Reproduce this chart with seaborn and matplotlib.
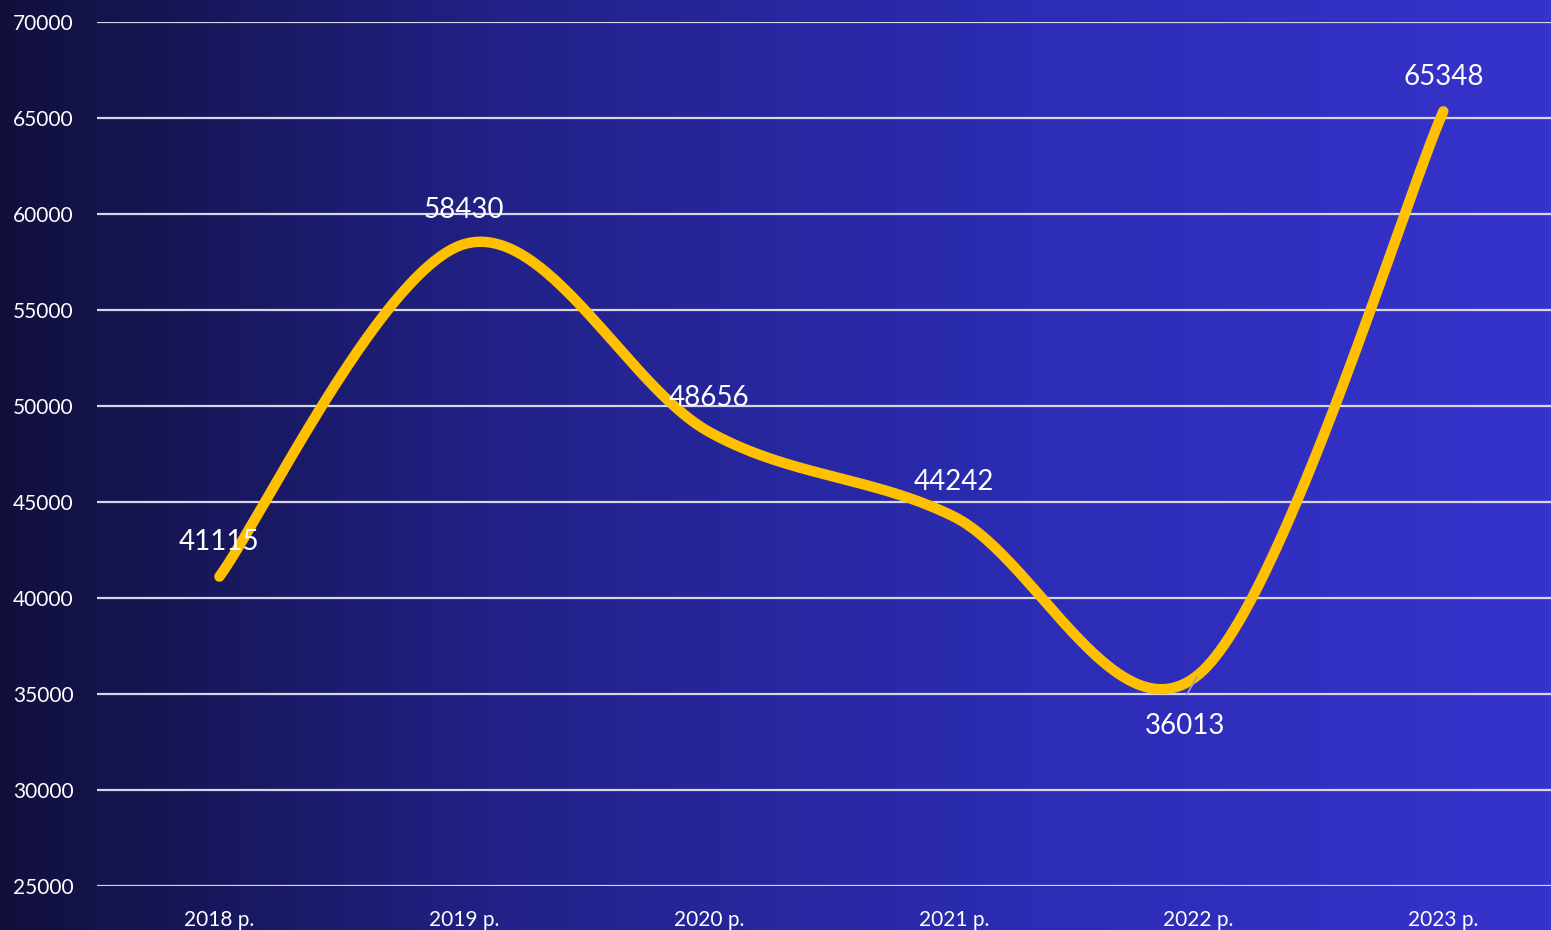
import numpy as np
import pandas as pd
import matplotlib.pyplot as plt
import seaborn as sns
from matplotlib.colors import LinearSegmentedColormap

# данные графика
years = ["2018 р.", "2019 р.", "2020 р.", "2021 р.", "2022 р.", "2023 р."]
values = [41115, 58430, 48656, 44242, 36013, 65348]
y_ticks = [25000, 30000, 35000, 40000, 45000, 50000, 55000, 60000, 65000, 70000]


def smooth_curve(xs, ys, sx=245.0, sy=19.2 / 1000, n=60):
    """
    Excel-подобное сглаживание (Безье по Катмулл-Рому) в пиксельном масштабе
    """
    p = np.column_stack([np.asarray(xs, float) * sx, np.asarray(ys, float) * sy])
    pad = np.vstack([p[0], p, p[-1]])
    out = []
    t = np.linspace(0, 1, n)[:, None]
    for i in range(len(p) - 1):
        p0, p1, p2, p3 = pad[i], pad[i + 1], pad[i + 2], pad[i + 3]
        c1 = p1 + (p2 - p0) / 6
        c2 = p2 - (p3 - p1) / 6
        seg = ((1 - t) ** 3) * p1 + 3 * ((1 - t) ** 2) * t * c1 + 3 * (1 - t) * t ** 2 * c2 + t ** 3 * p2
        out.append(seg if i == 0 else seg[1:])
    out = np.vstack(out)
    return out[:, 0] / sx, out[:, 1] / sy


sns.set_theme(style="white")
plt.rcParams["font.family"] = ["Lato", "DejaVu Sans"]

fig = plt.figure(figsize=(15.51, 9.30), dpi=100)

# фон с градиентом
bg = fig.add_axes([0, 0, 1, 1], zorder=-10)
cmap = LinearSegmentedColormap.from_list("bg", ["#11103c", "#22228a", "#2c2cb4", "#3633cc"])
bg.imshow(np.linspace(0, 1, 512)[None, :], aspect="auto", cmap=cmap, extent=[0, 1, 0, 1])
bg.axis("off")

ax = fig.add_axes([97 / 1551, 1 - 886 / 930, 1 - 97 / 1551, (886 - 22) / 930])
ax.patch.set_alpha(0)

xs = np.arange(len(years))
cx, cy = smooth_curve(xs, values)
df = pd.DataFrame({"x": cx, "y": cy})
sns.lineplot(data=df, x="x", y="y", ax=ax, color="#FFC000", lw=7.5, sort=False,
             solid_capstyle="round", clip_on=False, zorder=3)

ax.set_xlim(-0.5, 5.44)
ax.set_ylim(25000, 70000)
ax.set_yticks(y_ticks)
ax.set_yticklabels([str(v) for v in y_ticks])
ax.set_xticks(xs)
ax.set_xticklabels(years)
ax.yaxis.grid(True, color="#d6d6e6", lw=1.6)
ax.set_axisbelow(True)
ax.tick_params(axis="y", colors="white", labelsize=15, length=0, pad=17)
ax.tick_params(axis="x", colors="white", labelsize=15, length=0, pad=17)
for s in ax.spines.values():
    s.set_visible(False)
ax.set_xlabel("")
ax.set_ylabel("")

# подписи значений (смещение в пикселях относительно точки)
offsets = [(0, 35), (0, 34), (0, 34), (0, 35), (-13, -51), (0, 34)]
for x, v, (dx, dy) in zip(xs, values, offsets):
    ax.annotate(str(v), (x, v), xytext=(dx * 0.72, dy * 0.72), textcoords="offset points",
                ha="center", va="center", color="white", fontsize=20, zorder=5,
                annotation_clip=False)

# выносная линия для 2022
ax.annotate("", (4, 36013), xytext=(4 - 13 / 245, 36013 - 22 / 19.2 * 1000),
            arrowprops=dict(arrowstyle="-", color="#a0a0b8", lw=1.2), zorder=4)

fig.savefig("out.png", dpi=100)
